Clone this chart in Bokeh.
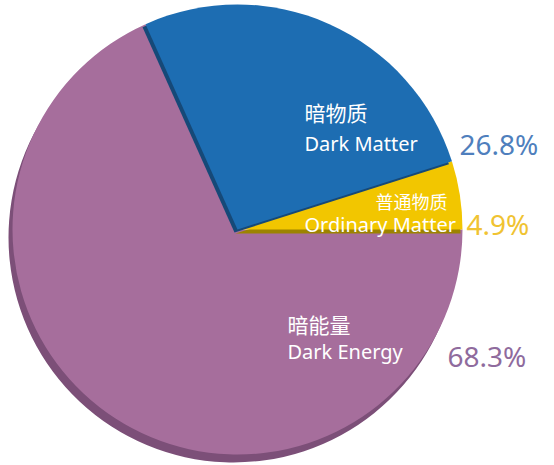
import math

from bokeh.plotting import figure
from bokeh.models import Range1d
from bokeh.core.properties import value
from bokeh.embed import file_html
from bokeh.resources import INLINE

# data
labels_cn = ["普通物质", "暗物质", "暗能量"]
labels_en = ["Ordinary Matter", "Dark Matter", "Dark Energy"]
shares = [4.9, 26.8, 68.3]
pct_labels = ["4.9%", "26.8%", "68.3%"]

# styles
fill_colors = ["#f2c600", "#1d6db2", "#a66e9c"]
shadow_colors = ["#9c8300", "#164978", "#7c4f78"]
pct_colors = ["#f0c332", "#4f7fbd", "#8f6b9d"]
shadow_offsets = [(-2, -4), (-3, -3), (-4, -8)]

# pie geometry (data units == pixels, y up)
cx, cy, r = 237, 236, 225

# label layout: (x, baseline y) for chinese, english and percent text
cn_pos = [(375, 265), (304, 354), (287, 142)]
cn_size = ["18px", "21px", "21px"]
en_pos = [(304, 241), (304, 322), (287, 114)]
pct_pos = [(466, 242), (459, 322), (447, 110)]

W, H = 554, 465
p = figure(width=W, height=H, x_range=Range1d(0, W), y_range=Range1d(0, H),
           output_backend="svg", toolbar_location=None, tools=[], min_border=0)
p.axis.visible = False
p.grid.visible = False
p.outline_line_color = None
p.background_fill_color = "white"

total = sum(shares)
starts, ends = [], []
acc = 0.0
for s in shares:
    starts.append(acc / total * 2 * math.pi)
    acc += s
    ends.append(acc / total * 2 * math.pi)

# draw purple first, then yellow, then blue (blue shadow lies over yellow)
order = [2, 0, 1]
for i in order:
    dx, dy = shadow_offsets[i]
    p.wedge(x=[cx + dx], y=[cy + dy], radius=r, start_angle=starts[i], end_angle=ends[i],
            fill_color=shadow_colors[i], line_color=None)
    p.wedge(x=[cx], y=[cy], radius=r, start_angle=starts[i], end_angle=ends[i],
            fill_color=fill_colors[i], line_color=None)

p.text(x=[q[0] for q in cn_pos], y=[q[1] for q in cn_pos], text=labels_cn,
       text_font=value("Noto Sans CJK SC"), text_font_size=cn_size,
       text_color="white", text_baseline="alphabetic", text_align="left")
p.text(x=[q[0] for q in en_pos], y=[q[1] for q in en_pos], text=labels_en,
       text_font=value("Noto Sans"), text_font_size="20px",
       text_color="white", text_baseline="alphabetic", text_align="left")
p.text(x=[q[0] for q in pct_pos], y=[q[1] for q in pct_pos], text=pct_labels,
       text_font=value("Noto Sans"), text_font_size="28px",
       text_color=pct_colors, text_baseline="alphabetic", text_align="left")

open("out.html", "w").write(file_html(p, INLINE))
